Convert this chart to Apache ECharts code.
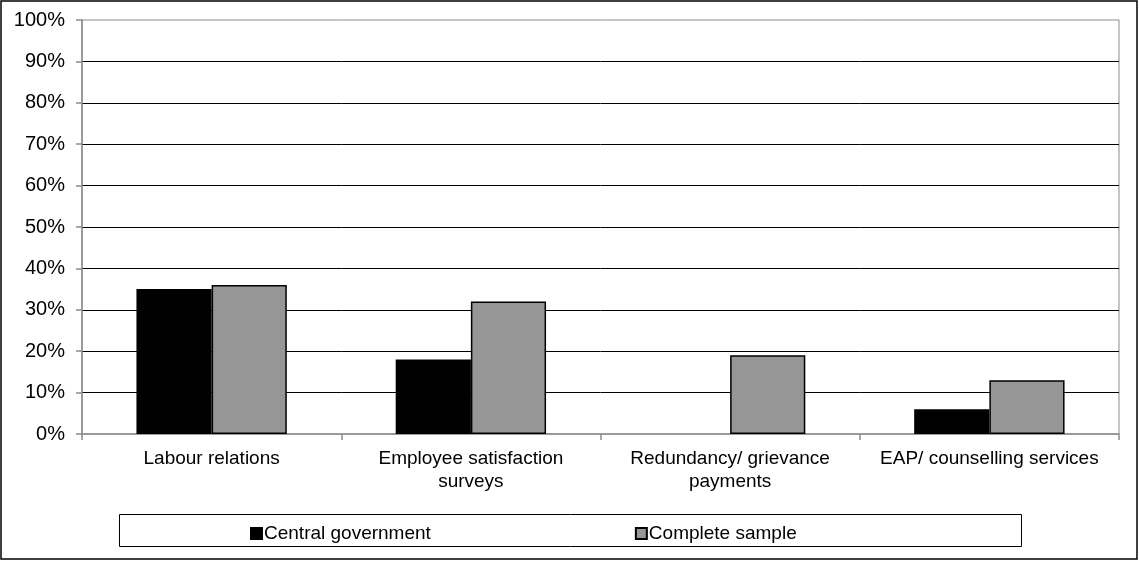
<!DOCTYPE html>
<html>
<head>
<meta charset="utf-8">
<script src="https://cdn.jsdelivr.net/npm/echarts@6/dist/echarts.min.js"></script>
<style>
  html, body { margin: 0; padding: 0; background: #fff; }
  #chart { width: 1139px; height: 561px; }
</style>
</head>
<body>
<div id="chart"></div>
<script>
// Categories and shares (percent) per group
const categories = [
  'Labour relations',
  'Employee satisfaction\nsurveys',
  'Redundancy/ grievance\npayments',
  'EAP/ counselling services'
];
const centralGovernment = [35, 18, 0, 6];
const completeSample = [36, 32, 19, 13];
const seriesNames = ['Central government', 'Complete sample'];

const font = '"Liberation Sans", Arial, sans-serif';
const chart = echarts.init(document.getElementById('chart'), null, { renderer: 'canvas' });

// zero-height bars get no outline
const barData = (values) => values.map(v => v === 0 ? { value: v, itemStyle: { borderWidth: 0 } } : v);

chart.setOption({
  backgroundColor: '#ffffff',
  animation: false,
  textStyle: { fontFamily: font, color: '#000' },
  grid: {
    left: 82, right: 20, top: 20, bottom: 127,
    show: true, borderColor: '#8c8c8c', borderWidth: 1, backgroundColor: 'transparent'
  },
  legend: {
    left: 245, top: 519,
    itemWidth: 11, itemHeight: 11, itemGap: 204,
    icon: 'rect',
    textStyle: { fontFamily: font, fontSize: 19, color: '#000', padding: [0, 0, 0, -3] },
    data: seriesNames
  },
  xAxis: {
    type: 'category',
    data: categories,
    axisLine: { show: true, lineStyle: { color: '#8c8c8c', width: 1.5 } },
    axisTick: { show: true, length: 6, lineStyle: { color: '#8c8c8c', width: 1.5 } },
    axisLabel: { fontFamily: font, fontSize: 19, color: '#000', margin: 13, lineHeight: 23, interval: 0 },
    splitLine: { show: false }
  },
  yAxis: {
    type: 'value',
    min: 0, max: 100, interval: 10,
    axisLine: { show: true, lineStyle: { color: '#8c8c8c', width: 1.5 } },
    axisTick: { show: true, length: 6, lineStyle: { color: '#8c8c8c', width: 1.5 } },
    axisLabel: { fontFamily: font, fontSize: 20, color: '#000', margin: 17, formatter: '{value}%' },
    splitLine: { show: true, showMaxLine: false, showMinLine: false, lineStyle: { color: '#000', width: 1 } }
  },
  series: [
    {
      name: seriesNames[0],
      type: 'bar',
      data: barData(centralGovernment),
      barGap: '0%',
      barCategoryGap: '42%',
      itemStyle: { color: '#000000', borderColor: '#000', borderWidth: 1.5 }
    },
    {
      name: seriesNames[1],
      type: 'bar',
      data: barData(completeSample),
      barGap: '0%',
      barCategoryGap: '42%',
      itemStyle: { color: '#969696', borderColor: '#000', borderWidth: 1.5 }
    }
  ],
  graphic: [
    {
      type: 'rect',
      shape: { x: 1, y: 1, width: 1136, height: 558 },
      style: { fill: 'none', stroke: '#000', lineWidth: 1.5 },
      silent: true
    },
    {
      type: 'rect',
      shape: { x: 119.5, y: 514.5, width: 902, height: 32 },
      style: { fill: 'none', stroke: '#000', lineWidth: 1 },
      silent: true
    }
  ]
});
</script>
</body>
</html>
